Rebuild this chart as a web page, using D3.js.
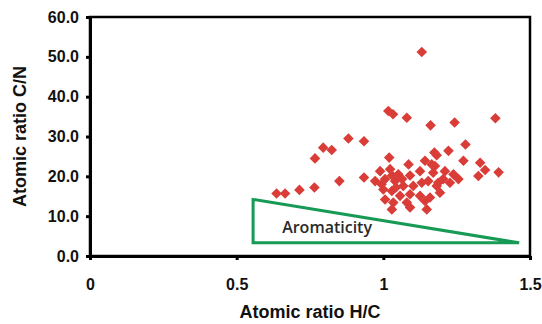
<!DOCTYPE html>
<html><head><meta charset="utf-8">
<script src="https://cdn.jsdelivr.net/npm/d3@7"></script>
<style>body{margin:0;background:#fff}svg{display:block}</style>
</head><body>
<svg id="c" width="542" height="324"></svg>
<script>
// H/C (x) and C/N (y) values
const hc = [1.131,1.017,1.033,1.080,1.161,1.243,1.382,0.881,0.934,0.795,0.824,0.767,0.850,0.934,0.636,0.665,0.714,0.765,
  1.280,1.222,1.174,1.020,1.273,1.330,1.347,1.393,1.324,1.086,1.142,1.182,1.165,0.989,1.023,1.125,1.170,1.176,1.210,1.239,
  1.256,1.204,1.227,1.182,1.193,1.159,0.972,1.006,1.040,1.068,1.102,1.131,1.153,1.187,1.000,1.029,1.057,1.091,1.125,1.006,
  1.034,1.080,1.142,1.029,1.091,1.148,0.994,1.051,1.030,1.064,1.091,1.043];
const cn = [51.2,36.4,35.6,34.7,32.8,33.5,34.6,29.5,28.8,27.2,26.6,24.5,18.8,19.7,15.7,15.7,16.6,17.2,
  28.0,26.4,26.0,24.7,23.9,23.4,21.6,21.0,20.1,23.0,23.9,25.3,23.0,21.3,21.8,21.3,20.9,22.6,21.3,20.5,
  19.3,19.3,18.4,17.6,15.9,14.7,18.8,19.3,18.8,17.6,17.6,18.4,18.8,18.4,16.7,16.3,15.1,15.5,15.1,14.2,
  13.4,13.4,13.8,11.7,12.2,11.7,18.0,20.5,20.2,19.3,20.2,17.2];
const xTicks = [0, 0.5, 1, 1.5];
const xTickLabels = ["0", "0.5", "1", "1.5"];
const yTicks = [0, 10, 20, 30, 40, 50, 60];
const yTickLabels = ["0.0", "10.0", "20.0", "30.0", "40.0", "50.0", "60.0"];
const triangleHC = [0.556, 0.556, 1.463];
const triangleCN = [14.2, 3.3, 3.3];
const annotation = {text: "Aromaticity", hc: 0.655, cn: 5.7};

const svg = d3.select("#c");
const x = d3.scaleLinear().domain([0, 1.5]).range([90, 530]);
const y = d3.scaleLinear().domain([0, 60]).range([256, 17]);

// points
const pts = hc.map((v, i) => [v, cn[i]]);
svg.append("g").selectAll("path").data(pts).join("path")
  .attr("d", d3.symbol(d3.symbolSquare, 56))
  .attr("transform", d => `translate(${x(d[0])},${y(d[1])}) rotate(45)`)
  .attr("fill", "#da3d38");

// triangle
const tri = triangleHC.map((v, i) => [x(v), y(triangleCN[i])]);
svg.append("path").attr("d", d3.line()(tri) + "Z")
  .attr("fill", "none").attr("stroke", "#179a56").attr("stroke-width", 3).attr("stroke-linejoin", "miter");
svg.append("text").attr("x", x(annotation.hc)).attr("y", y(annotation.cn))
  .attr("font-family", "Open Sans").attr("font-size", 16).attr("font-weight", 600).attr("fill", "#2a2a2a")
  .text(annotation.text);

// frame
svg.append("rect").attr("x", x(0)).attr("y", y(60)).attr("width", x(1.5) - x(0)).attr("height", y(0) - y(60))
  .attr("fill", "none").attr("stroke", "#000").attr("stroke-width", 2.5);

// axes
const xa = svg.append("g").attr("transform", `translate(0,${y(0)})`)
  .call(d3.axisBottom(x).tickValues(xTicks).tickFormat((d, i) => xTickLabels[i]).tickSize(4).tickSizeOuter(0).tickPadding(19));
const ya = svg.append("g").attr("transform", `translate(${x(0)},0)`)
  .call(d3.axisLeft(y).tickValues(yTicks).tickFormat((d, i) => yTickLabels[i]).tickSize(4).tickSizeOuter(0).tickPadding(7));
[xa, ya].forEach(g => {
  g.select(".domain").attr("stroke-width", 3);
  g.selectAll(".tick line").attr("stroke-width", 3);
  g.selectAll("text").attr("font-family", "Liberation Sans, Arial").attr("font-weight", "bold").attr("font-size", 16).attr("fill", "#111");
});

svg.append("text").attr("x", (x(0) + x(1.5)) / 2).attr("y", 318).attr("text-anchor", "middle")
  .attr("font-family", "Liberation Sans, Arial").attr("font-weight", "bold").attr("font-size", 18).attr("fill", "#111")
  .text("Atomic ratio H/C");
svg.append("text").attr("transform", `translate(26,${(y(0) + y(60)) / 2}) rotate(-90)`).attr("text-anchor", "middle")
  .attr("font-family", "Liberation Sans, Arial").attr("font-weight", "bold").attr("font-size", 18).attr("fill", "#111")
  .text("Atomic ratio C/N");
</script>
</body></html>
